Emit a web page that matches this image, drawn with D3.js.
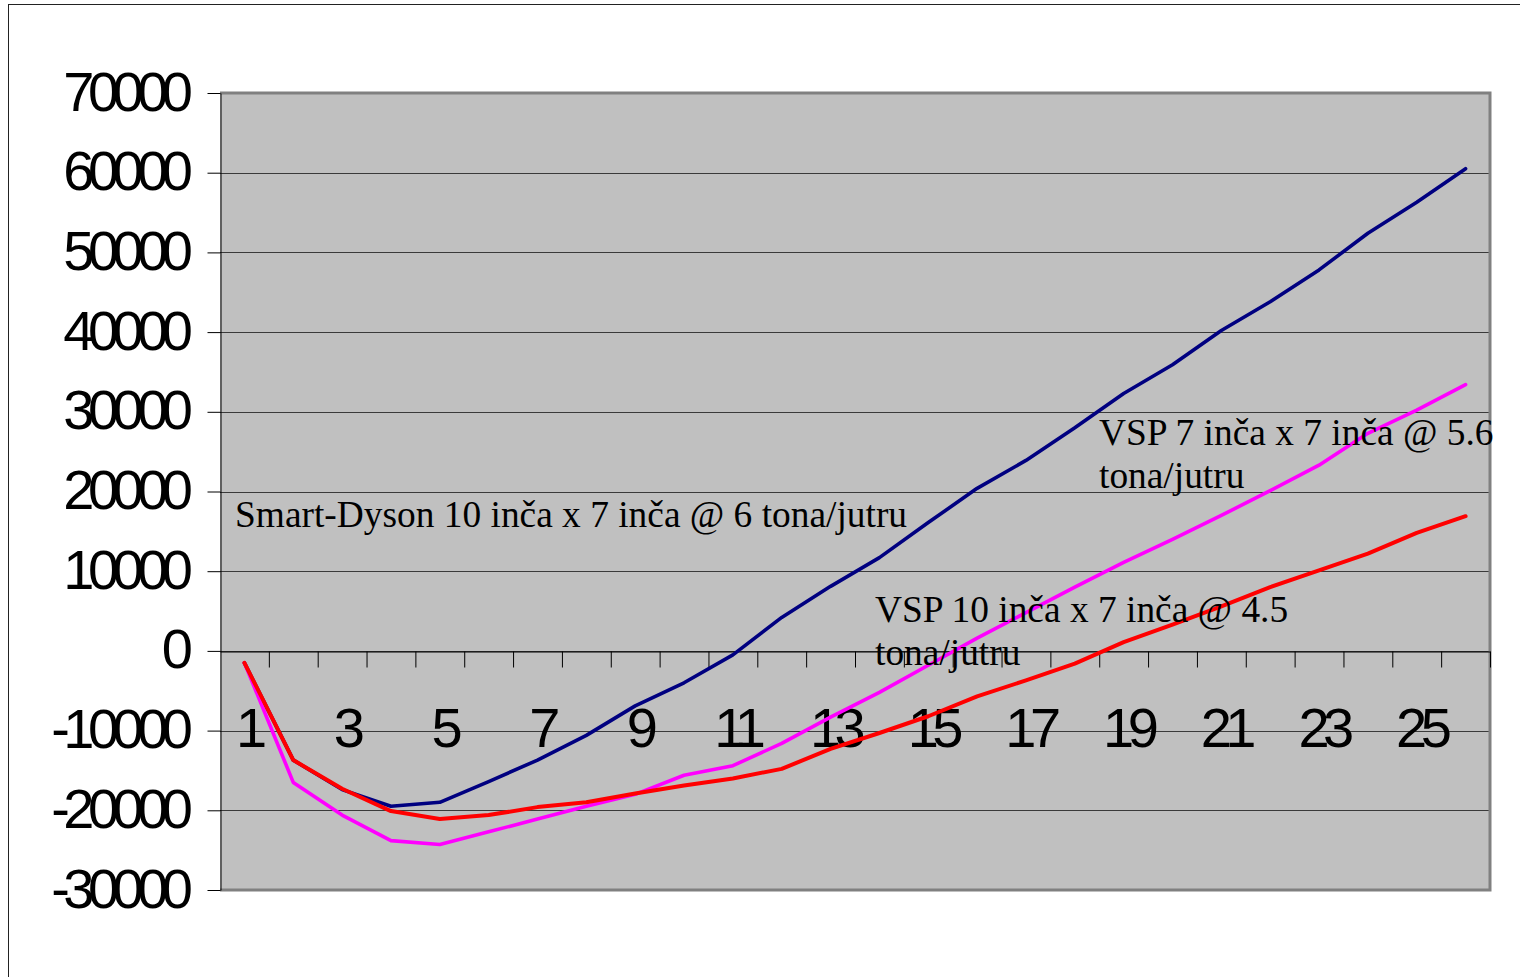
<!DOCTYPE html>
<html>
<head>
<meta charset="utf-8">
<script src="https://cdn.jsdelivr.net/npm/d3@7"></script>
<style>
  body { margin:0; background:#fff; }
  svg { display:block; }
  .num { font-family: "Liberation Sans", Arial, sans-serif; font-size:56px; letter-spacing:-6.5px; fill:#000; }
  .note { font-family: "Liberation Serif", "Times New Roman", serif; font-size:37.4px; fill:#000; }
</style>
</head>
<body>
<div id="chart"></div>
<script>
// categories (years) and series values
const categories = ["1","2","3","4","5","6","7","8","9","10","11","12","13","14","15","16","17","18","19","20","21","22","23","24","25","26"];
const labelledCategories = ["1","3","5","7","9","11","13","15","17","19","21","23","25"];
const yTicks = [-30000,-20000,-10000,0,10000,20000,30000,40000,50000,60000,70000];

const smartDyson = [-1500,-13700,-17400,-19500,-19000,-16400,-13700,-10600,-6900,-4000,-500,4200,8100,11700,16100,20400,23900,28000,32300,35900,40200,43800,47800,52400,56300,60500];
const vsp7x7    = [-1500,-16500,-20600,-23800,-24300,-22700,-21100,-19500,-18000,-15600,-14400,-11600,-8300,-5200,-1800,1600,4800,8000,11100,14000,17000,20100,23300,27300,30200,33400];
const vsp10x7   = [-1500,-13700,-17300,-20100,-21100,-20600,-19600,-19000,-17900,-16900,-16000,-14800,-12300,-10300,-8200,-5700,-3700,-1600,1100,3300,5600,8000,10100,12200,14800,16900];

const series = [
  { name: "Smart-Dyson", values: smartDyson, color: "#000080", width: 3.6 },
  { name: "VSP 7x7",     values: vsp7x7,    color: "#ff00ff", width: 3.6 },
  { name: "VSP 10x7",    values: vsp10x7,   color: "#ff0000", width: 4 },
];

const notes = [
  { lines: ["Smart-Dyson 10 inča x 7 inča @ 6 tona/jutru"], x: 235, y: 527 },
  { lines: ["VSP 7 inča x 7 inča @ 5.6", "tona/jutru"], x: 1099, y: 445 },
  { lines: ["VSP 10 inča x 7 inča @ 4.5", "tona/jutru"], x: 875, y: 622 },
];

const W = 1520, H = 977;
const plot = { left: 220, right: 1490, top: 93, bottom: 890 };

const svg = d3.select("#chart").append("svg")
  .attr("width", W).attr("height", H);

// outer chart frame (runs off the right/bottom edge)
svg.append("rect")
  .attr("x", 8.5).attr("y", 4.5)
  .attr("width", 1540).attr("height", 1000)
  .attr("fill", "#fff").attr("stroke", "#222").attr("stroke-width", 1);

const x = d3.scaleBand().domain(categories).range([plot.left, plot.right]).padding(0);
const xEdge = d3.scaleLinear().domain([0, categories.length]).range([plot.left, plot.right]);
const y = d3.scaleLinear().domain([-30000, 70000]).range([plot.bottom, plot.top]);

// plot area
svg.append("rect")
  .attr("x", plot.left).attr("y", plot.top)
  .attr("width", plot.right - plot.left).attr("height", plot.bottom - plot.top)
  .attr("fill", "#c0c0c0");

// gridlines
svg.append("g")
  .selectAll("line")
  .data(yTicks.filter(d => d !== -30000 && d !== 70000))
  .join("line")
  .attr("x1", plot.left).attr("x2", plot.right)
  .attr("y1", d => Math.round(y(d)) + 0.5).attr("y2", d => Math.round(y(d)) + 0.5)
  .attr("stroke", "#3a3a3a").attr("stroke-width", 1);

// plot border (grey shadow on top/right/bottom)
svg.append("path")
  .attr("d", `M${plot.left},${plot.top} H${plot.right} V${plot.bottom} H${plot.left}`)
  .attr("fill", "none").attr("stroke", "#808080").attr("stroke-width", 3);

// y axis
const yAxis = svg.append("g")
  .attr("transform", `translate(${plot.left + 0.5},0)`)
  .call(d3.axisLeft(y).tickValues(yTicks).tickSize(13).tickSizeOuter(0).tickFormat(d => String(d)));
yAxis.select(".domain").attr("stroke", "#000");
yAxis.selectAll(".tick line").attr("stroke", "#000");
yAxis.attr("font-family", null).attr("font-size", null);
yAxis.selectAll(".tick text")
  .attr("class", "num")
  .attr("x", -34).attr("y", 17).attr("dy", 0);

// x axis: zero line with tick marks at category boundaries
const xTicks = svg.append("g")
  .attr("transform", `translate(0,${Math.round(y(0)) + 0.5})`)
  .call(d3.axisBottom(xEdge).ticks(categories.length).tickSize(16).tickSizeOuter(0).tickFormat(""));
xTicks.select(".domain").attr("stroke", "#000");
xTicks.selectAll(".tick line").attr("stroke", "#000");
xTicks.selectAll(".tick").filter(d => d === 0).remove();

// x labels at odd categories
const xLabels = svg.append("g")
  .attr("transform", `translate(0,${y(0)})`)
  .call(d3.axisBottom(x).tickValues(labelledCategories).tickSize(0));
xLabels.select(".domain").remove();
xLabels.attr("font-family", null).attr("font-size", null);
xLabels.selectAll(".tick text")
  .attr("class", "num")
  .attr("y", 96).attr("dy", 0).attr("dx", 4);

// series lines
const line = d3.line()
  .x((d, i) => x(categories[i]) + x.bandwidth() / 2)
  .y(d => y(d));

svg.append("g")
  .selectAll("path")
  .data(series)
  .join("path")
  .attr("d", s => line(s.values))
  .attr("fill", "none")
  .attr("stroke", s => s.color)
  .attr("stroke-width", s => s.width)
  .attr("stroke-linejoin", "round")
  .attr("stroke-linecap", "round");

// annotations
const noteG = svg.append("g");
for (const n of notes) {
  const t = noteG.append("text").attr("class", "note").attr("x", n.x).attr("y", n.y);
  n.lines.forEach((l, i) => {
    t.append("tspan").attr("x", n.x).attr("dy", i === 0 ? 0 : 43).text(l);
  });
}
</script>
</body>
</html>
